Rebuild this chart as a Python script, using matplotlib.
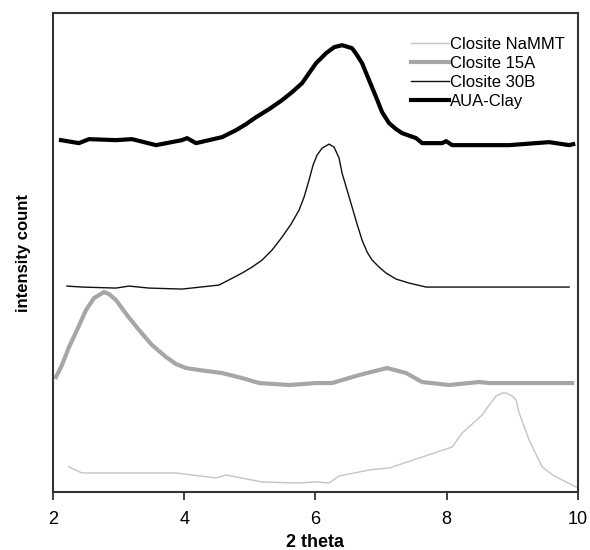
import matplotlib
matplotlib.use("Agg")
import matplotlib.pyplot as plt

# ---- data (2 theta vs. intensity, arbitrary offset units) ----
x_nammt = [2.244, 2.442, 3.204, 3.875, 4.485, 4.637, 5.186, 5.704, 6.009, 6.207, 6.360,
           6.817, 7.122, 7.579, 8.082, 8.235, 8.540, 8.646, 8.753, 8.845, 8.905, 8.997,
           9.058, 9.104, 9.256, 9.454, 9.637, 9.973]
y_nammt = [25, 19, 19, 19, 14, 17, 10, 9, 10, 9, 16,
           22, 24, 34, 45, 59, 77, 87, 96, 99, 99, 96,
           92, 79, 52, 25, 16, 5]

x_15a = [2.046, 2.137, 2.244, 2.366, 2.503, 2.625, 2.777, 2.854, 2.960, 3.128, 3.311, 3.509,
         3.723, 3.875, 4.027, 4.226, 4.576, 4.881, 5.140, 5.598, 6.009, 6.253, 6.665, 7.091,
         7.381, 7.625, 8.037, 8.494, 8.646, 9.912]
y_15a = [115, 127, 145, 162, 182, 194, 200, 198, 192, 177, 162, 147,
         135, 128, 124, 122, 119, 114, 109, 107, 109, 109, 117, 124,
         119, 110, 107, 110, 109, 109]

x_30b = [2.213, 2.442, 2.960, 3.159, 3.463, 3.966, 4.530, 4.881, 5.034, 5.186, 5.338, 5.491,
         5.628, 5.750, 5.826, 5.902, 5.963, 6.024, 6.101, 6.207, 6.284, 6.360, 6.405, 6.482,
         6.558, 6.634, 6.710, 6.787, 6.863, 6.970, 7.076, 7.229, 7.427, 7.686, 8.448, 9.210, 9.866]
y_30b = [206, 205, 204, 206, 204, 203, 207, 219, 225, 232, 242, 255,
         268, 282, 295, 312, 327, 337, 344, 348, 345, 334, 319, 302,
         285, 268, 252, 240, 232, 225, 219, 213, 209, 205, 205, 205, 205]

x_aua = [2.122, 2.396, 2.549, 2.960, 3.204, 3.570, 3.966, 4.043, 4.180, 4.576, 4.790, 4.942,
         5.095, 5.293, 5.491, 5.643, 5.796, 5.902, 6.009, 6.162, 6.284, 6.405, 6.558, 6.634,
         6.710, 6.817, 6.924, 7.015, 7.122, 7.229, 7.320, 7.534, 7.625, 7.930, 7.991, 8.082,
         8.448, 8.951, 9.561, 9.866, 9.927]
y_aua = [352, 349, 353, 352, 353, 347, 352, 354, 349, 355, 362, 368,
         375, 383, 392, 400, 409, 419, 429, 439, 445, 447, 444, 437,
         429, 412, 395, 380, 369, 363, 359, 354, 349, 349, 351, 347,
         347, 347, 350, 347, 348]

labels = ["Closite NaMMT", "Closite 15A", "Closite 30B", "AUA-Clay"]
xticks = [2, 4, 6, 8, 10]

fig = plt.figure(figsize=(5.9, 5.5), dpi=100)
ax = fig.add_axes([0.0898, 0.1055, 0.8898, 0.8705])

ax.plot(x_nammt, y_nammt, color="#c4c4c4", lw=1.0, label=labels[0])
ax.plot(x_15a, y_15a, color="#a6a6a6", lw=3.0, label=labels[1])
ax.plot(x_30b, y_30b, color="#111111", lw=1.0, label=labels[2])
ax.plot(x_aua, y_aua, color="#000000", lw=3.0, label=labels[3])

ax.set_xlim(2, 10)
ax.set_ylim(0, 479)
ax.set_xticks(xticks)
ax.set_xticklabels([str(t) for t in xticks], fontsize=13, family="Liberation Sans")
ax.set_yticks([])
ax.tick_params(axis="x", direction="out", length=6, width=1.3, color="#333333", pad=8)

for s in ax.spines.values():
    s.set_color("#333333")
    s.set_linewidth(1.5)

ax.set_xlabel("2 theta", fontsize=13, fontweight="bold", family="Liberation Sans", labelpad=4)
ax.set_ylabel("intensity count", fontsize=12, fontweight="bold", family="Liberation Sans", labelpad=16)

leg = ax.legend(loc="upper right", bbox_to_anchor=(1.0, 0.979), frameon=False,
                prop={"family": "Liberation Sans", "size": 12},
                handlelength=2.3, handletextpad=0.05, labelspacing=0.25, borderaxespad=0.4)

fig.savefig("out.png", dpi=100)
